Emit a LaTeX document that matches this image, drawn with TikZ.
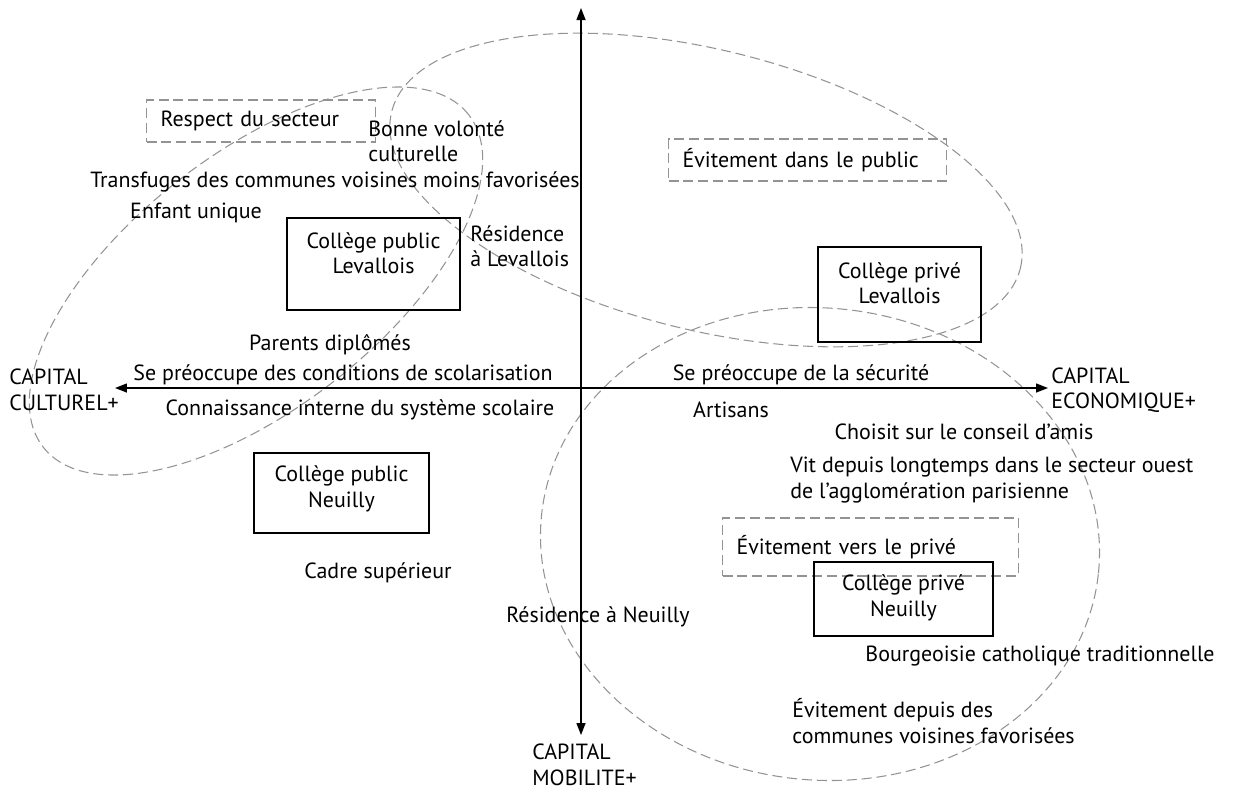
\documentclass[tikz,border=0pt]{standalone}
\usepackage{fontspec}
\setmainfont{PT Sans}
\usetikzlibrary{arrows.meta,positioning}
\begin{document}
\begin{tikzpicture}[
    x=0.02cm, y=-0.02cm,
    font=\fontsize{12.5}{14.5}\selectfont,
    every node/.style={inner sep=0pt, align=center},
    axis/.style={line width=0.8pt, {Triangle[length=0.24cm,width=0.18cm]}-{Triangle[length=0.24cm,width=0.18cm]}},
    zone/.style={draw=gray!85, line width=0.6pt, dash pattern=on 5.7pt off 2.8pt},
    strategie/.style={zone, text=black, anchor=west, align=left, inner xsep=0.28cm},
    college/.style={draw, line width=0.7pt}
  ]
  \useasboundingbox (0,0) rectangle (1233,792);

  \draw[zone, rotate around={38:(256,281)}] (256,281) ellipse [x radius=5.4cm, y radius=2.54cm];
  \draw[zone, rotate around={-14:(706,190)}] (706,190) ellipse [x radius=6.48cm, y radius=2.8cm];
  \draw[zone, rotate around={-6:(820,544)}] (820,544) ellipse [x radius=5.6cm, y radius=4.72cm];

  \coordinate (xl) at (115,388);
  \coordinate (xr) at (1048,388);
  \coordinate (yt) at (581,8);
  \coordinate (yb) at (581,735);
  \draw[axis] (xl) -- (xr);
  \draw[axis] (yb) -- (yt);

  \node[align=left, anchor=west] (cult) at (9,390) {CAPITAL\\CULTUREL+};
  \node[align=left, anchor=west] (eco) at (1051,390) {CAPITAL\\ECONOMIQUE+};
  \node[align=left, anchor=west] (mob) at (532,765) {CAPITAL\\MOBILITE+};

  \node[strategie, text width=4.02cm, minimum height=0.84cm] (respect) at (146,121) {Respect du secteur};
  \node[strategie, text width=5cm, minimum height=0.84cm] (evpub) at (668,160) {Évitement dans le public};
  \node[strategie, text width=5.36cm, minimum height=1.16cm] (evpriv) at (722,547) {Évitement vers le privé};

  \node[college, minimum width=3.46cm, minimum height=1.84cm] (cpl) at (373.5,264) {};
  \node (cplt) at (373.5,253) {Collège public\\Levallois};
  \node[college, minimum width=3.5cm, minimum height=1.6cm] (cpn) at (341.5,493) {};
  \node (cpnt) at (341.5,489) {Collège public\\Neuilly};
  \node[college, minimum width=3.26cm, minimum height=1.9cm] (cprl) at (899.5,294.5) {};
  \node (cprlt) at (899.5,283) {Collège privé\\Levallois};
  \node[college, minimum width=3.58cm, minimum height=1.48cm] (cprn) at (903.5,599) {};
  \node (cprnt) at (903.5,598) {Collège privé\\Neuilly};

  \node[align=left, anchor=west] (bonne) at (368,141) {Bonne volonté\\culturelle};
  \node (transf) at (335,182) {Transfuges des communes voisines moins favorisées};
  \node (enfant) at (196,213) {Enfant unique};
  \node[align=left, anchor=west] (resl) at (470,246) {Résidence\\à Levallois};
  \node (parents) at (330,345) {Parents diplômés};
  \node (precsco) at (343,375) {Se préoccupe des conditions de scolarisation};
  \node (connais) at (360,410) {Connaissance interne du système scolaire};
  \node (cadre) at (378,573) {Cadre supérieur};
  \node (resn) at (598,617) {Résidence à Neuilly};
  \node (secu) at (801,375) {Se préoccupe de la sécurité};
  \node (artisans) at (731,410) {Artisans};
  \node (choisit) at (964,432) {Choisit sur le conseil d’amis};
  \node[align=left, anchor=west] (vit) at (790,480) {Vit depuis longtemps dans le secteur ouest\\de l’agglomération parisienne};
  \node (bourg) at (1040,656) {Bourgeoisie catholique traditionnelle};
  \node[align=left, anchor=west] (evdep) at (792,721) {Évitement depuis des\\communes voisines favorisées};
\end{tikzpicture}
\end{document}
